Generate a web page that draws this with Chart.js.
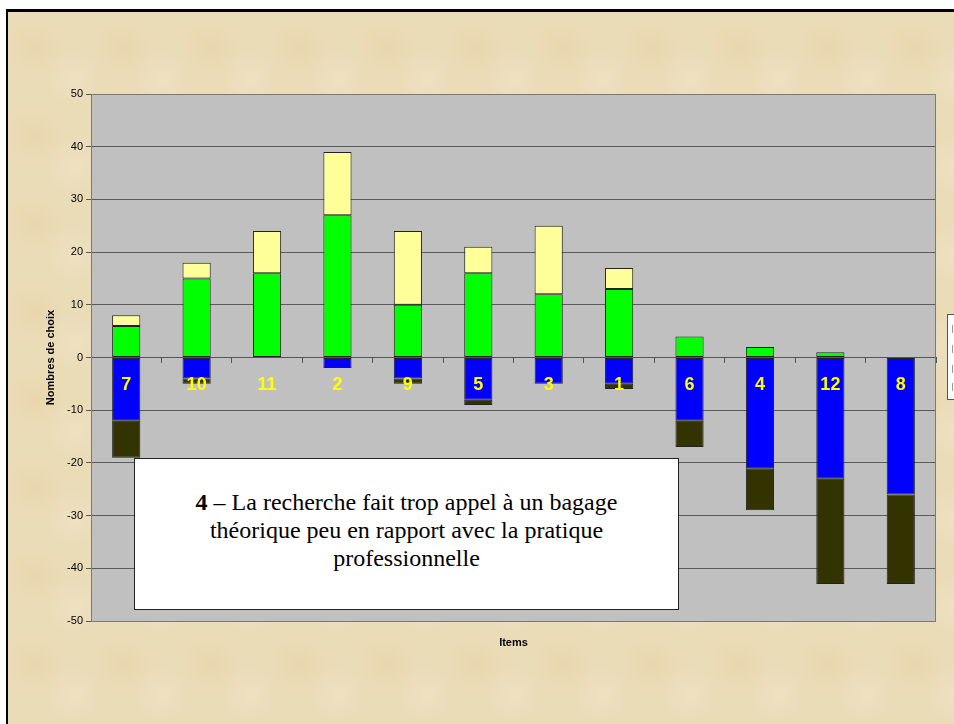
<!DOCTYPE html>
<html>
<head>
<meta charset="utf-8">
<script src="https://cdn.jsdelivr.net/npm/chart.js@4"></script>
<style>
  html, body { margin: 0; padding: 0; background: #fff; }
  #page { position: relative; width: 954px; height: 724px; overflow: hidden; background: #fff; }
  #frame {
    position: absolute; left: 6px; top: 9px; width: 960px; height: 730px;
    border-left: 2px solid #000; border-top: 3px solid #000;
    background-color: #ebdcb8;
    background-image:
      radial-gradient(circle at 30% 40%, rgba(228,200,148,0.3) 0, rgba(228,200,148,0) 30px),
      radial-gradient(circle at 75% 75%, rgba(243,233,210,0.35) 0, rgba(243,233,210,0) 28px);
    background-size: 88px 88px, 88px 88px;
  }
  canvas { position: absolute; left: 0; top: 0; }
  #note {
    position: absolute; left: 134px; top: 458px; width: 543px; height: 121px;
    padding-top: 29px; background: #fff; border: 1px solid #222;
    font-family: 'Liberation Serif', 'Times New Roman', serif; font-size: 24px;
    line-height: 28px; text-align: center; color: #000;
  }
  #legend {
    position: absolute; left: 947px; top: 314px; width: 20px; height: 84px;
    background: #fff; border: 1px solid #555;
  }
  #legend i { position: absolute; left: 4px; width: 1px; height: 8px; background: #999; }
</style>
</head>
<body>
<div id="page">
  <div id="frame"></div>
  <canvas id="chart" width="954" height="724"></canvas>
  <div id="note"><b>4</b> – La recherche fait trop appel à un bagage<br>théorique peu en rapport avec la pratique<br>professionnelle</div>
  <div id="legend"><i style="top:10px"></i><i style="top:30px"></i><i style="top:50px"></i><i style="top:68px"></i></div>
</div>
<script>
const items = ['7', '10', '11', '2', '9', '5', '3', '1', '6', '4', '12', '8'];
const greenVals = [6, 15, 16, 27, 10, 16, 12, 13, 4, 2, 1, 0];
const yellowVals = [2, 3, 8, 12, 14, 5, 13, 4, 0, 0, 0, 0];
const blueVals = [-12, -4, 0, -2, -4, -8, -5, -5, -12, -21, -23, -26];
const darkVals = [-7, -1, 0, 0, -1, -1, 0, -1, -5, -8, -20, -17];
const yTicks = [-50, -40, -30, -20, -10, 0, 10, 20, 30, 40, 50];

const plotBg = {
  id: 'plotBg',
  beforeDraw(chart) {
    const { ctx, chartArea: a } = chart;
    ctx.save();
    ctx.fillStyle = '#c0c0c0';
    ctx.fillRect(a.left, a.top, a.right - a.left, a.bottom - a.top);
    ctx.restore();
  },
  afterDraw(chart) {
    const { ctx, chartArea: a } = chart;
    ctx.save();
    ctx.strokeStyle = '#7a7a7a';
    ctx.lineWidth = 1;
    ctx.strokeRect(a.left + 0.5, a.top + 0.5, a.right - a.left - 1, a.bottom - a.top);
    ctx.fillStyle = '#000';
    ctx.font = 'bold 11px "Liberation Sans", Arial, sans-serif';
    ctx.textAlign = 'center';
    ctx.textBaseline = 'middle';
    ctx.fillText('Items', (a.left + a.right) / 2, 643);
    ctx.restore();
  }
};

const ds = (label, data, color) => ({
  label, data, backgroundColor: color, borderColor: '#222', borderWidth: 1,
  borderSkipped: false, barPercentage: 0.4, categoryPercentage: 1
});

new Chart(document.getElementById('chart').getContext('2d'), {
  type: 'bar',
  data: {
    labels: items,
    datasets: [
      ds('Plutôt d\'accord', greenVals, '#00ff00'),
      ds('Tout à fait d\'accord', yellowVals, '#ffff99'),
      ds('Plutôt pas d\'accord', blueVals, '#0000ff'),
      ds('Pas du tout d\'accord', darkVals, '#333300')
    ]
  },
  options: {
    responsive: false,
    animation: false,
    layout: { padding: { left: 0, top: 94, right: 18, bottom: 103 } },
    plugins: { legend: { display: false }, tooltip: { enabled: false } },
    scales: {
      x: {
        stacked: true,
        position: { y: 0 },
        grid: { drawOnChartArea: false, drawTicks: true, tickLength: 5, color: '#555', offset: true, z: 1 },
        border: { display: true, color: '#555', z: 1 },
        ticks: {
          color: '#ffff00', padding: 12, z: 2,
          font: { family: '"Liberation Sans Narrow", "Arial Narrow", Arial, sans-serif', size: 18, weight: 'bold' }
        }
      },
      y: {
        stacked: true,
        min: -50, max: 50,
        afterFit(scale) { scale.width = 91; },
        afterBuildTicks(scale) { scale.ticks = yTicks.map(v => ({ value: v })); },
        grid: { color: '#5a5a5a', tickLength: 5, drawTicks: true },
        border: { display: true, color: '#5a5a5a' },
        ticks: {
          color: '#000', padding: 3,
          font: { family: '"Liberation Sans", Arial, sans-serif', size: 11 }
        },
        title: {
          display: true, text: 'Nombres de choix', color: '#000',
          padding: { top: 44, bottom: 0 },
          font: { family: '"Liberation Sans", Arial, sans-serif', size: 11, weight: 'bold' }
        }
      }
    }
  },
  plugins: [plotBg]
});
</script>
</body>
</html>
